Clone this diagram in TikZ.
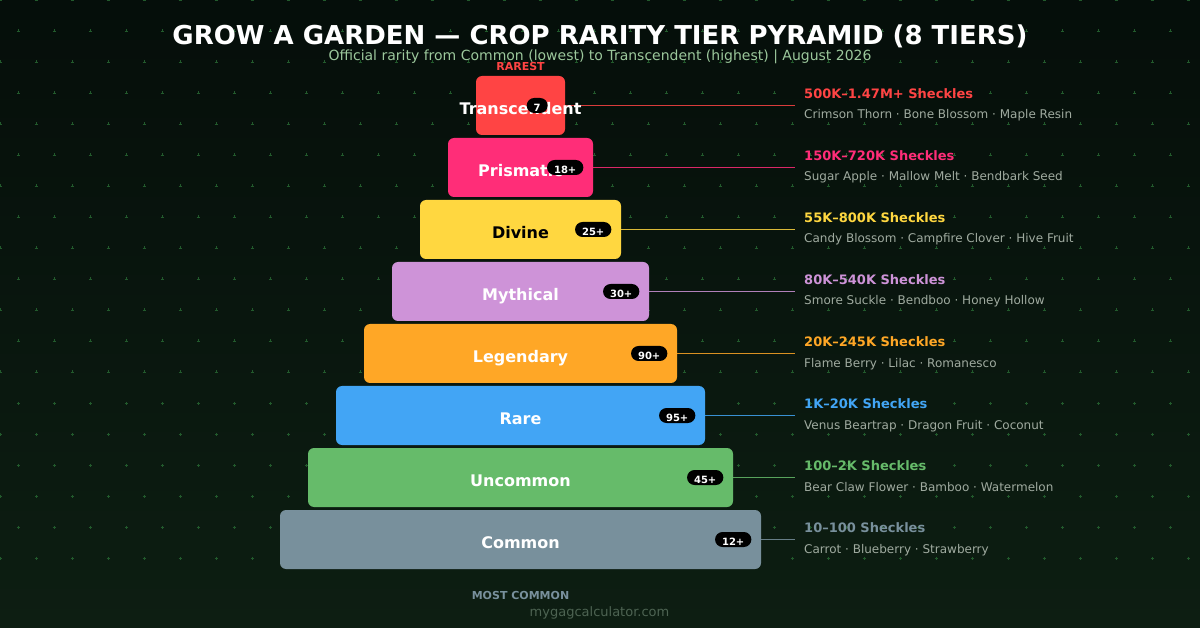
\documentclass[tikz,border=0pt]{standalone}
\usepackage{fontspec}
\setmainfont{DejaVu Sans}
\usetikzlibrary{calc}

\definecolor{bgtop}{RGB}{5,14,10}
\definecolor{bgbot}{RGB}{13,30,18}
\definecolor{dotgreen}{RGB}{34,90,44}
\definecolor{subgreen}{HTML}{9CC89C}
\definecolor{cropgray}{HTML}{A0ABA0}
\definecolor{sitegray}{HTML}{4D6352}
\definecolor{tierTrans}{HTML}{FF4444}
\definecolor{tierPris}{HTML}{FF2D78}
\definecolor{tierDiv}{HTML}{FFD740}
\definecolor{tierMyth}{HTML}{CE93D8}
\definecolor{tierLeg}{HTML}{FFA726}
\definecolor{tierRare}{HTML}{42A5F5}
\definecolor{tierUnc}{HTML}{66BB6A}
\definecolor{tierCom}{HTML}{78909C}

\def\tierlist{%
  0/Transcendent/tierTrans/white/7/500K–1.47M+ Sheckles/Crimson Thorn · Bone Blossom · Maple Resin,%
  1/Prismatic/tierPris/white/18+/150K–720K Sheckles/Sugar Apple · Mallow Melt · Bendbark Seed,%
  2/Divine/tierDiv/black/25+/55K–800K Sheckles/Candy Blossom · Campfire Clover · Hive Fruit,%
  3/Mythical/tierMyth/white/30+/80K–540K Sheckles/Smore Suckle · Bendboo · Honey Hollow,%
  4/Legendary/tierLeg/white/90+/20K–245K Sheckles/Flame Berry · Lilac · Romanesco,%
  5/Rare/tierRare/white/95+/1K–20K Sheckles/Venus Beartrap · Dragon Fruit · Coconut,%
  6/Uncommon/tierUnc/white/45+/100–2K Sheckles/Bear Claw Flower · Bamboo · Watermelon,%
  7/Common/tierCom/white/12+/10–100 Sheckles/Carrot · Blueberry · Strawberry}

\begin{document}
\begin{tikzpicture}[x=1pt,y=-1pt,
    dotmark/.style={draw=dotgreen,line width=0.9pt},
    tier/.style={rounded corners=6pt,minimum height=59pt,inner sep=0pt},
    tiername/.style={inner sep=0pt,text height=17.5pt,text depth=0pt,font=\fontsize{16}{19}\bfseries},
    badge/.style={fill=black,rounded corners=7.5pt,minimum height=15pt,inner xsep=7pt,inner ysep=0pt,
      text height=12pt,text depth=0pt,text=white,font=\fontsize{10}{12}\bfseries},
    link/.style={line width=1pt,draw opacity=0.85},
    price/.style={anchor=base west,inner sep=0pt,font=\fontsize{13}{15}\bfseries},
    crops/.style={anchor=base west,inner sep=0pt,text=cropgray,font=\fontsize{12}{14}\selectfont}]

  % backdrop with staggered dot grid
  \shade[top color=bgtop,bottom color=bgbot] (0,0) rectangle (1200,628);
  \useasboundingbox (0,0) rectangle (1200,628);
  \foreach \r in {0,...,18}
    \foreach \c in {0,...,33}
      \draw[dotmark] ({36*\c+18*mod(\r,2)},{31*\r}) +(-1.5,0) -- +(1.5,0) +(0,-1.5) -- +(0,1.5);

  % heading
  \node[anchor=base,text=white,font=\fontsize{26}{30}\bfseries] (title) at (600,44.5)
    {GROW A GARDEN — CROP RARITY TIER PYRAMID (8 TIERS)};
  \node[anchor=base,text=subgreen,font=\fontsize{14}{17}\selectfont] (subtitle) at (600,61)
    {Official rarity from Common (lowest) to Transcendent (highest) | August 2026};
  \node[anchor=base,text=tierTrans,font=\fontsize{11}{13}\bfseries] (rarest) at (520.5,71) {RAREST};

  % pyramid tiers
  \foreach \i/\name/\col/\tc/\cnt/\price/\crops in \tierlist {
    \node[tier,fill=\col,minimum width={89+56*\i}] (t\i) at (520.5,{105.5+62*\i}) {};
    \coordinate (e\i) at (795,{105.5+62*\i});
    \draw[link,\col] (t\i.east) -- (e\i);
    \node[tiername,text=\tc] (n\i) at (t\i) {\name};
    \node[badge] (b\i) at ($(t\i.east)+(-28,0)$) {\cnt};
    \node[price,text=\col] (p\i) at (804,{98.3+62*\i}) {\price};
    \node[crops] (c\i) at (804,{119+62*\i}) {\crops};
  }

  % footer
  \node[anchor=base,text=tierCom,font=\fontsize{11}{13}\bfseries] (mostcommon) at (520.5,599) {MOST COMMON};
  \node[anchor=base,text=sitegray,font=\fontsize{13}{16}\selectfont] (site) at (599.5,616) {mygagcalculator.com};
\end{tikzpicture}
\end{document}
